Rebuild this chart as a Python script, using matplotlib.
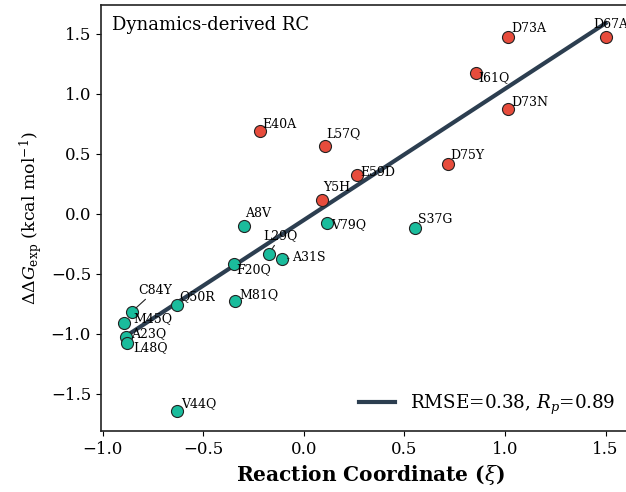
import numpy as np
import matplotlib
matplotlib.use("Agg")
import matplotlib.pyplot as plt

plt.rcParams['font.family'] = 'DejaVu Serif'
plt.rcParams['mathtext.fontset'] = 'dejavuserif'

# destabilising (red) mutants
red_names = ['D73A', 'D67A', 'I61Q', 'D73N', 'E40A', 'L57Q', 'E59D', 'D75Y', 'Y5H']
red_x = [1.015, 1.50, 0.855, 1.015, -0.22, 0.105, 0.264, 0.716, 0.09]
red_y = [1.475, 1.475, 1.175, 0.875, 0.69, 0.567, 0.325, 0.417, 0.117]

# stabilising (green) mutants
green_names = ['A8V', 'V79Q', 'S37G', 'L29Q', 'A31S', 'F20Q', 'M81Q', 'Q50R',
               'C84Y', 'M45Q', 'A23Q', 'L48Q', 'V44Q']
green_x = [-0.30, 0.114, 0.552, -0.174, -0.109, -0.348, -0.343, -0.632,
           -0.856, -0.896, -0.886, -0.881, -0.632]
green_y = [-0.10, -0.075, -0.117, -0.333, -0.375, -0.417, -0.725, -0.758,
           -0.817, -0.908, -1.03, -1.075, -1.64]

# linear fit
slope = 1.093
intercept = -0.052
fit_label = r'RMSE=0.38, $R_p$=0.89'

# label offsets (points) and whether a connector is drawn
offsets = {
    'D73A': (2, 1, False), 'D67A': (-9, 4, False), 'I61Q': (2, -8, False),
    'D73N': (2, 0, False), 'E40A': (2, 0, False), 'L57Q': (1, 4, False),
    'E59D': (2, -3, False), 'D75Y': (2, 1, False), 'Y5H': (1, 4, False),
    'A8V': (1, 4, False), 'V79Q': (3, -6, False), 'S37G': (2, 1, False),
    'L29Q': (-4, 8, True), 'A31S': (7, -4, True), 'F20Q': (2, -9, False),
    'M81Q': (3, 0, False), 'Q50R': (2, 1, False), 'C84Y': (5, 11, True),
    'M45Q': (7, -2, False), 'A23Q': (4, -2, False), 'L48Q': (5, -8, False),
    'V44Q': (3, 0, False),
}

fig = plt.figure(figsize=(6.26, 4.92), dpi=100)
ax = fig.add_axes([0.161, 0.124, 0.861, 0.866])

xs = np.array(red_x + green_x)
line_x = np.array([xs.min(), xs.max()])
ax.plot(line_x, slope * line_x + intercept, color='#2c3e50', lw=3,
        label=fit_label, zorder=2)

ax.scatter(red_x, red_y, s=75, color='#e74c3c', edgecolor='#222222',
           linewidth=0.8, zorder=3)
ax.scatter(green_x, green_y, s=75, color='#1abc9c', edgecolor='#222222',
           linewidth=0.8, zorder=3)

for names, px, py in [(red_names, red_x, red_y), (green_names, green_x, green_y)]:
    for n, x, y in zip(names, px, py):
        dx, dy, arrow = offsets[n]
        props = dict(arrowstyle='-', color='#222222', lw=0.8, shrinkA=0,
                     shrinkB=4) if arrow else None
        ax.annotate(n, (x, y), xytext=(dx, dy), textcoords='offset points',
                    fontsize=9, ha='left', va='bottom', arrowprops=props,
                    zorder=4)

ax.text(0.02, 0.975, 'Dynamics-derived RC', transform=ax.transAxes,
        fontsize=13, ha='left', va='top')

ax.set_xlim(-1.01, 1.67)
ax.set_ylim(-1.81, 1.74)
ax.set_xticks([-1.0, -0.5, 0.0, 0.5, 1.0, 1.5])
ax.set_yticks([-1.5, -1.0, -0.5, 0.0, 0.5, 1.0, 1.5])
ax.tick_params(labelsize=12)
for s in ax.spines.values():
    s.set_linewidth(1.2)
    s.set_color('#222222')

ax.set_xlabel(r'Reaction Coordinate ($\xi$)', fontsize=14.5, fontweight='bold')
ax.set_ylabel(r'$\Delta\Delta G_{\mathrm{exp}}$ (kcal mol$^{-1}$)', fontsize=12.5)
ax.legend(loc='lower right', frameon=False, fontsize=13.2,
          bbox_to_anchor=(0.985, -0.005))

fig.savefig('out.png', dpi=100)
